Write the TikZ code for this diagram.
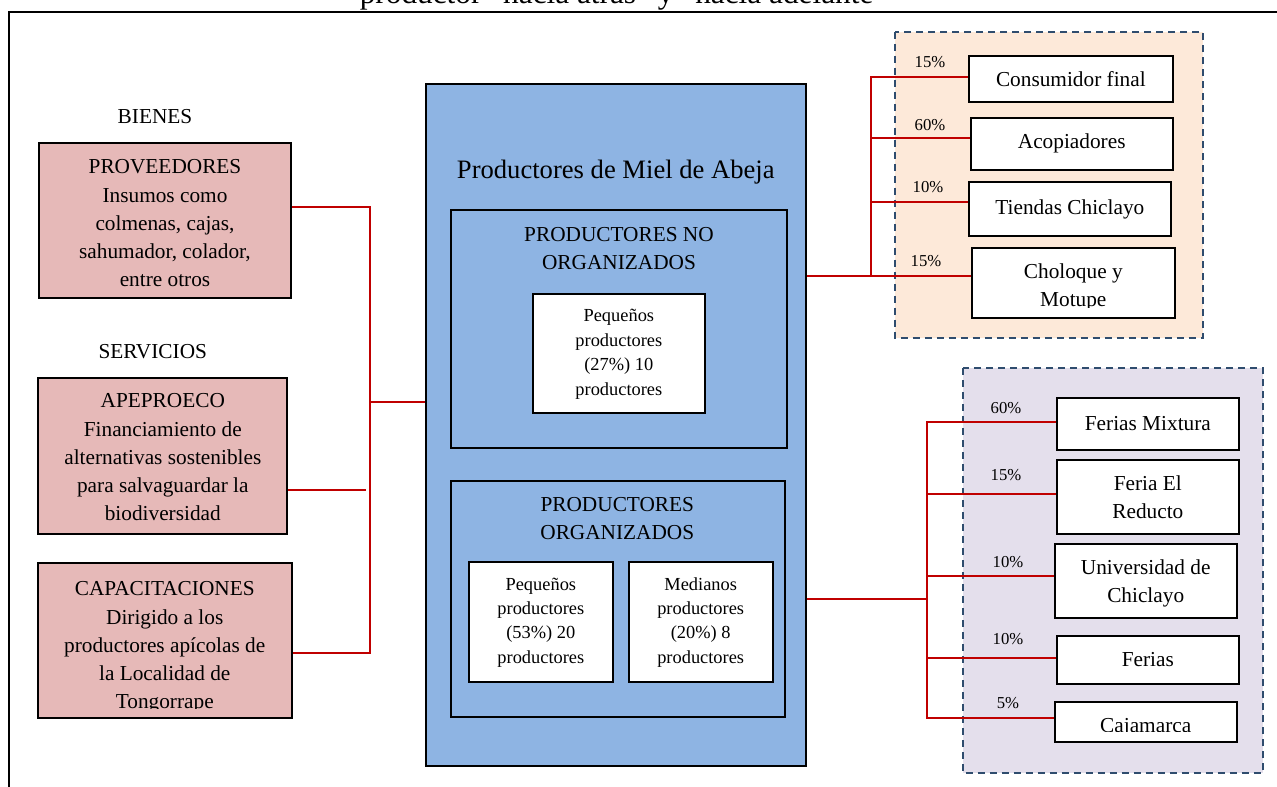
\documentclass[tikz,border=0pt]{standalone}
\usepackage{fontspec}
\setmainfont{Liberation Serif}
\usetikzlibrary{calc}

\definecolor{supplyfill}{HTML}{E6B9B8}
\definecolor{producerfill}{HTML}{8EB4E3}
\definecolor{retailfill}{HTML}{FDE9D9}
\definecolor{fairfill}{HTML}{E4DFEC}
\definecolor{linkred}{HTML}{C00000}
\definecolor{dashblue}{HTML}{2F4C6E}

\newcommand{\fsBody}{\fontsize{21.3}{28.2}\selectfont}
\newcommand{\fsHeadTwo}{\fontsize{21.3}{27.6}\selectfont}
\newcommand{\fsSmall}{\fontsize{18.4}{24.4}\selectfont}
\newcommand{\fsPct}{\fontsize{16.7}{20}\selectfont}
\newcommand{\fsMain}{\fontsize{26.6}{32}\selectfont}
\newcommand{\fsCaption}{\fontsize{31.3}{36}\selectfont}

\tikzset{
  framebox/.style={draw=black, line width=2pt, inner sep=0pt, align=center, font=\fsBody},
  supbox/.style={framebox, fill=supplyfill},
  prodbox/.style={framebox, fill=producerfill},
  whitebox/.style={framebox, fill=white},
  zonebox/.style={draw=dashblue, line width=2pt, dash pattern=on 7pt off 5pt},
  link/.style={draw=linkred, line width=2pt},
  pct/.style={inner sep=0pt, font=\fsPct},
  plain/.style={inner sep=0pt, align=center, font=\fsBody},
  % multi-line text placed by the baseline of its last line
  lastbase/.style={plain, anchor=base},
  smalltext/.style={lastbase, font=\fsSmall},
}

\begin{document}
\begin{tikzpicture}[x=1pt, y=-1pt]
  \clip (0,0) rectangle (1277,787);

  % caption line cut by the page edge, and the open frame
  \node[inner sep=0pt, font=\fsCaption, anchor=base] (caption) at (623.5,3)
    {productor “hacia atrás” y “hacia adelante”};
  \draw[line width=2pt] (9,800) -- (9,12) -- (1290,12);

  % ---------------- left: goods and services ----------------
  \node[lastbase] (bienes) at (155,123.3) {BIENES};
  \node[lastbase] (servicios) at (152.8,358.3) {SERVICIOS};

  \node[supbox, minimum width=252pt, minimum height=154.5pt] (prov) at (165,220.25) {};
  \node[lastbase] (provtext) at (165,286.7)
    {PROVEEDORES\\Insumos como\\colmenas, cajas,\\sahumador, colador,\\entre otros};
  \node[supbox, minimum width=249pt, minimum height=156pt] (ape) at (162.5,456) {};
  \node[lastbase] (apetext) at (162.8,520.7)
    {APEPROECO\\Financiamiento de\\alternativas sostenibles\\para salvaguardar la\\biodiversidad};
  \node[supbox, minimum width=253.5pt, minimum height=155pt] (cap) at (164.75,640.5) {};
  \begin{scope}
    \clip ($(cap.north west)+(2,2)$) rectangle ($(cap.south east)+(-2,-11)$);
    \node[lastbase] (captext) at (164.75,708.6)
      {CAPACITACIONES\\Dirigido a los\\productores apícolas de\\la Localidad de\\Tongorrape};
  \end{scope}

  % ---------------- centre: the producers ----------------
  \node[prodbox, minimum width=380pt, minimum height=682pt] (main) at (616,425) {};
  \node[lastbase, font=\fsMain] (maintitle) at (615.8,178.3)
    {Productores de Miel de Abeja};

  \node[prodbox, minimum width=336pt, minimum height=237.7pt] (noorg) at (618.7,328.85) {};
  \node[lastbase, font=\fsHeadTwo] (noorghead) at (619,269.3)
    {PRODUCTORES NO\\ORGANIZADOS};
  \node[whitebox, minimum width=172.3pt, minimum height=119pt] (smallA) at (618.85,353.5) {};
  \node[smalltext] (smallAtext) at (618.85,395)
    {Pequeños\\productores\\(27\%) 10\\productores};

  \node[prodbox, minimum width=334.3pt, minimum height=236.3pt] (org) at (617.85,598.85) {};
  \node[lastbase, font=\fsHeadTwo] (orghead) at (617.3,539)
    {PRODUCTORES\\ORGANIZADOS};
  \node[whitebox, minimum width=143.7pt, minimum height=119.7pt] (smallB) at (540.85,621.85) {};
  \node[smalltext] (smallBtext) at (540.85,663.3)
    {Pequeños\\productores\\(53\%) 20\\productores};
  \node[whitebox, minimum width=144pt, minimum height=119.7pt] (medium) at (700.7,621.85) {};
  \node[smalltext] (mediumtext) at (700.7,663.3)
    {Medianos\\productores\\(20\%) 8\\productores};

  % ---------------- right: sales channels ----------------
  \draw[zonebox, fill=retailfill] (895,31.7) rectangle (1202.7,338);
  \draw[zonebox, fill=fairfill] (962.7,368.3) rectangle (1262.7,773.3);

  \node[whitebox, minimum width=203.7pt, minimum height=46pt] (final) at (1070.85,78.7) {Consumidor final};
  \node[whitebox, minimum width=202pt, minimum height=52.3pt] (acop) at (1071.7,143.85) {Acopiadores};
  \node[whitebox, minimum width=201.7pt, minimum height=54pt] (shops) at (1069.85,209) {Tiendas Chiclayo};
  \node[whitebox, minimum width=202.7pt, minimum height=69.7pt] (chol) at (1073.65,282.85) {};
  \begin{scope}
    \clip ($(chol.north west)+(2,2)$) rectangle ($(chol.south east)+(-2,-11)$);
    \node[lastbase] (choltext) at (1073.3,306.6) {Choloque y\\Motupe};
  \end{scope}

  \node[whitebox, minimum width=182.3pt, minimum height=52pt] (mixt) at (1147.85,424) {Ferias Mixtura};
  \node[whitebox, minimum width=182.3pt, minimum height=74pt] (reducto) at (1147.85,497) {};
  \node[lastbase] (reductotext) at (1147.85,518.3) {Feria El\\Reducto};
  \node[whitebox, minimum width=182pt, minimum height=73.7pt] (univ) at (1145.7,580.85) {};
  \node[lastbase] (univtext) at (1145.7,602.4) {Universidad de\\Chiclayo};
  \node[whitebox, minimum width=182.3pt, minimum height=48pt] (ferias) at (1147.85,660) {Ferias};
  \node[whitebox, minimum width=182pt, minimum height=40pt] (caja) at (1145.7,721.7) {};
  \begin{scope}
    \clip ($(caja.north west)+(2,2)$) rectangle ($(caja.south east)+(-2,-11)$);
    \node[lastbase] (cajatext) at (1145.7,732.4) {Cajamarca};
  \end{scope}

  % ---------------- connectors ----------------
  % supply bus
  \coordinate (lb1) at (370,206.7);
  \coordinate (lb2) at (366,490);
  \coordinate (lb3) at (370,653);
  \coordinate (lbm) at (370,401.7);
  \draw[link] (prov.east |- lb1) -- (lb1) -- (lb3) -- (cap.east |- lb3);
  \draw[link] (ape.east |- lb2) -- (lb2);
  \draw[link] (lbm) -- (main.west |- lbm);

  % retail bus
  \coordinate (tb1) at (871,77.3);
  \coordinate (tb2) at (871,137.7);
  \coordinate (tb3) at (871,202);
  \coordinate (tb4) at (871,276);
  \draw[link] (main.east |- tb4) -- (tb4 -| chol.west);
  \draw[link] (tb4) -- (tb1) -- (tb1 -| final.west);
  \draw[link] (tb2) -- (tb2 -| acop.west);
  \draw[link] (tb3) -- (tb3 -| shops.west);

  % fair bus
  \coordinate (fb1) at (927,421.7);
  \coordinate (fb2) at (927,493.7);
  \coordinate (fb3) at (927,576);
  \coordinate (fb4) at (927,657.7);
  \coordinate (fb5) at (927,717.7);
  \coordinate (fbm) at (927,599);
  \draw[link] (main.east |- fbm) -- (fbm);
  \draw[link] (fb1 -| mixt.west) -- (fb1) -- (fb5) -- (fb5 -| caja.west);
  \draw[link] (fb2) -- (fb2 -| reducto.west);
  \draw[link] (fb3) -- (fb3 -| univ.west);
  \draw[link] (fb4) -- (fb4 -| ferias.west);

  % shares
  \node[pct] (s1) at (930,62.3) {15\%};
  \node[pct] (s2) at (930,125.3) {60\%};
  \node[pct] (s3) at (928,186.7) {10\%};
  \node[pct] (s4) at (926,260.7) {15\%};
  \node[pct] (s5) at (1006,407.7) {60\%};
  \node[pct] (s6) at (1006,475.3) {15\%};
  \node[pct] (s7) at (1008,561.7) {10\%};
  \node[pct] (s8) at (1008,639.3) {10\%};
  \node[pct] (s9) at (1008,703.3) {5\%};
\end{tikzpicture}
\end{document}
